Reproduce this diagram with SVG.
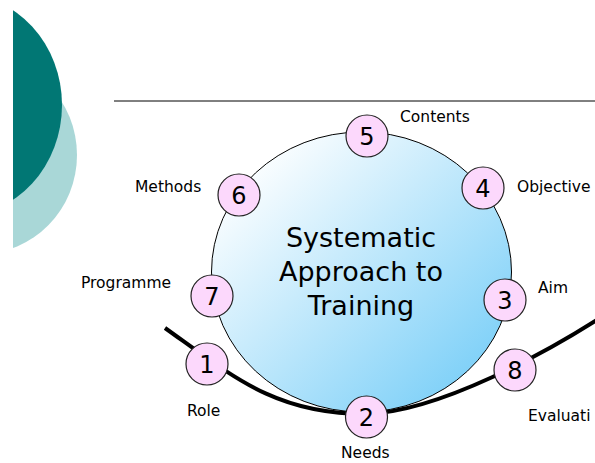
<svg xmlns="http://www.w3.org/2000/svg" width="595" height="463" viewBox="0 0 595 463">
  <defs>
    <clipPath id="leftClip"><rect x="13" y="0" width="200" height="463"/></clipPath>
    <linearGradient id="bigGrad" x1="0.12" y1="0.1" x2="0.88" y2="0.85">
      <stop offset="0" stop-color="#FFFFFF"/>
      <stop offset="1" stop-color="#80D1F8"/>
    </linearGradient>
    <style>
      .node { fill: #FCD8FC; stroke: #222222; stroke-width: 1.2; }
      .num { font-family: "DejaVu Sans", "Liberation Sans", sans-serif; font-size: 24px; fill: #000; text-anchor: middle; }
      .lbl { font-family: "DejaVu Sans", "Liberation Sans", sans-serif; font-size: 15.5px; fill: #000; }
      .title { font-family: "DejaVu Sans", "Liberation Sans", sans-serif; font-size: 27px; fill: #000; text-anchor: middle; }
      .conn { fill: none; stroke: #000; stroke-width: 4; stroke-linecap: butt; }
    </style>
  </defs>
  <rect width="595" height="463" fill="#FFFFFF"/>
  <g id="decor" clip-path="url(#leftClip)">
    <ellipse cx="-20" cy="155" rx="97" ry="99" fill="#A9D7D7"/>
    <ellipse cx="-40" cy="105" rx="102" ry="111" fill="#017774"/>
  </g>
  <line x1="114" y1="101" x2="595" y2="101" stroke="#000" stroke-width="1"/>
  <g id="connectors">
    <path class="conn" d="M165,328 C235,378 276,414 366,414 C440,412 550,350 600,318"/>
  </g>
  <g id="hub">
    <ellipse cx="361.5" cy="272" rx="150" ry="140" fill="url(#bigGrad)" stroke="#000" stroke-width="1"/>
    <text class="title" x="361" y="247">Systematic</text>
    <text class="title" x="361" y="281">Approach to</text>
    <text class="title" x="361" y="315">Training</text>
  </g>
  <g id="node5"><circle class="node" cx="367" cy="136" r="21"/><text class="num" x="367" y="144.5">5</text><text class="lbl" x="400" y="122">Contents</text></g>
  <g id="node6"><circle class="node" cx="239" cy="195" r="21"/><text class="num" x="239" y="203.5">6</text><text class="lbl" x="135" y="192">Methods</text></g>
  <g id="node4"><circle class="node" cx="483" cy="188" r="21"/><text class="num" x="483" y="196.5">4</text><text class="lbl" x="517" y="192">Objective</text></g>
  <g id="node3"><circle class="node" cx="505" cy="300" r="21"/><text class="num" x="505" y="308.5">3</text><text class="lbl" x="538" y="293">Aim</text></g>
  <g id="node7"><circle class="node" cx="212" cy="296" r="21"/><text class="num" x="212" y="304.5">7</text><text class="lbl" x="81" y="288">Programme</text></g>
  <g id="node1"><circle class="node" cx="207" cy="364" r="21"/><text class="num" x="207" y="372.5">1</text><text class="lbl" x="187" y="416">Role</text></g>
  <g id="node2"><circle class="node" cx="366.5" cy="417" r="21"/><text class="num" x="366.5" y="425.5">2</text><text class="lbl" x="341" y="458">Needs</text></g>
  <g id="node8"><circle class="node" cx="515" cy="370" r="21"/><text class="num" x="515" y="378.5">8</text><text class="lbl" x="528" y="421">Evaluati</text></g>
</svg>
